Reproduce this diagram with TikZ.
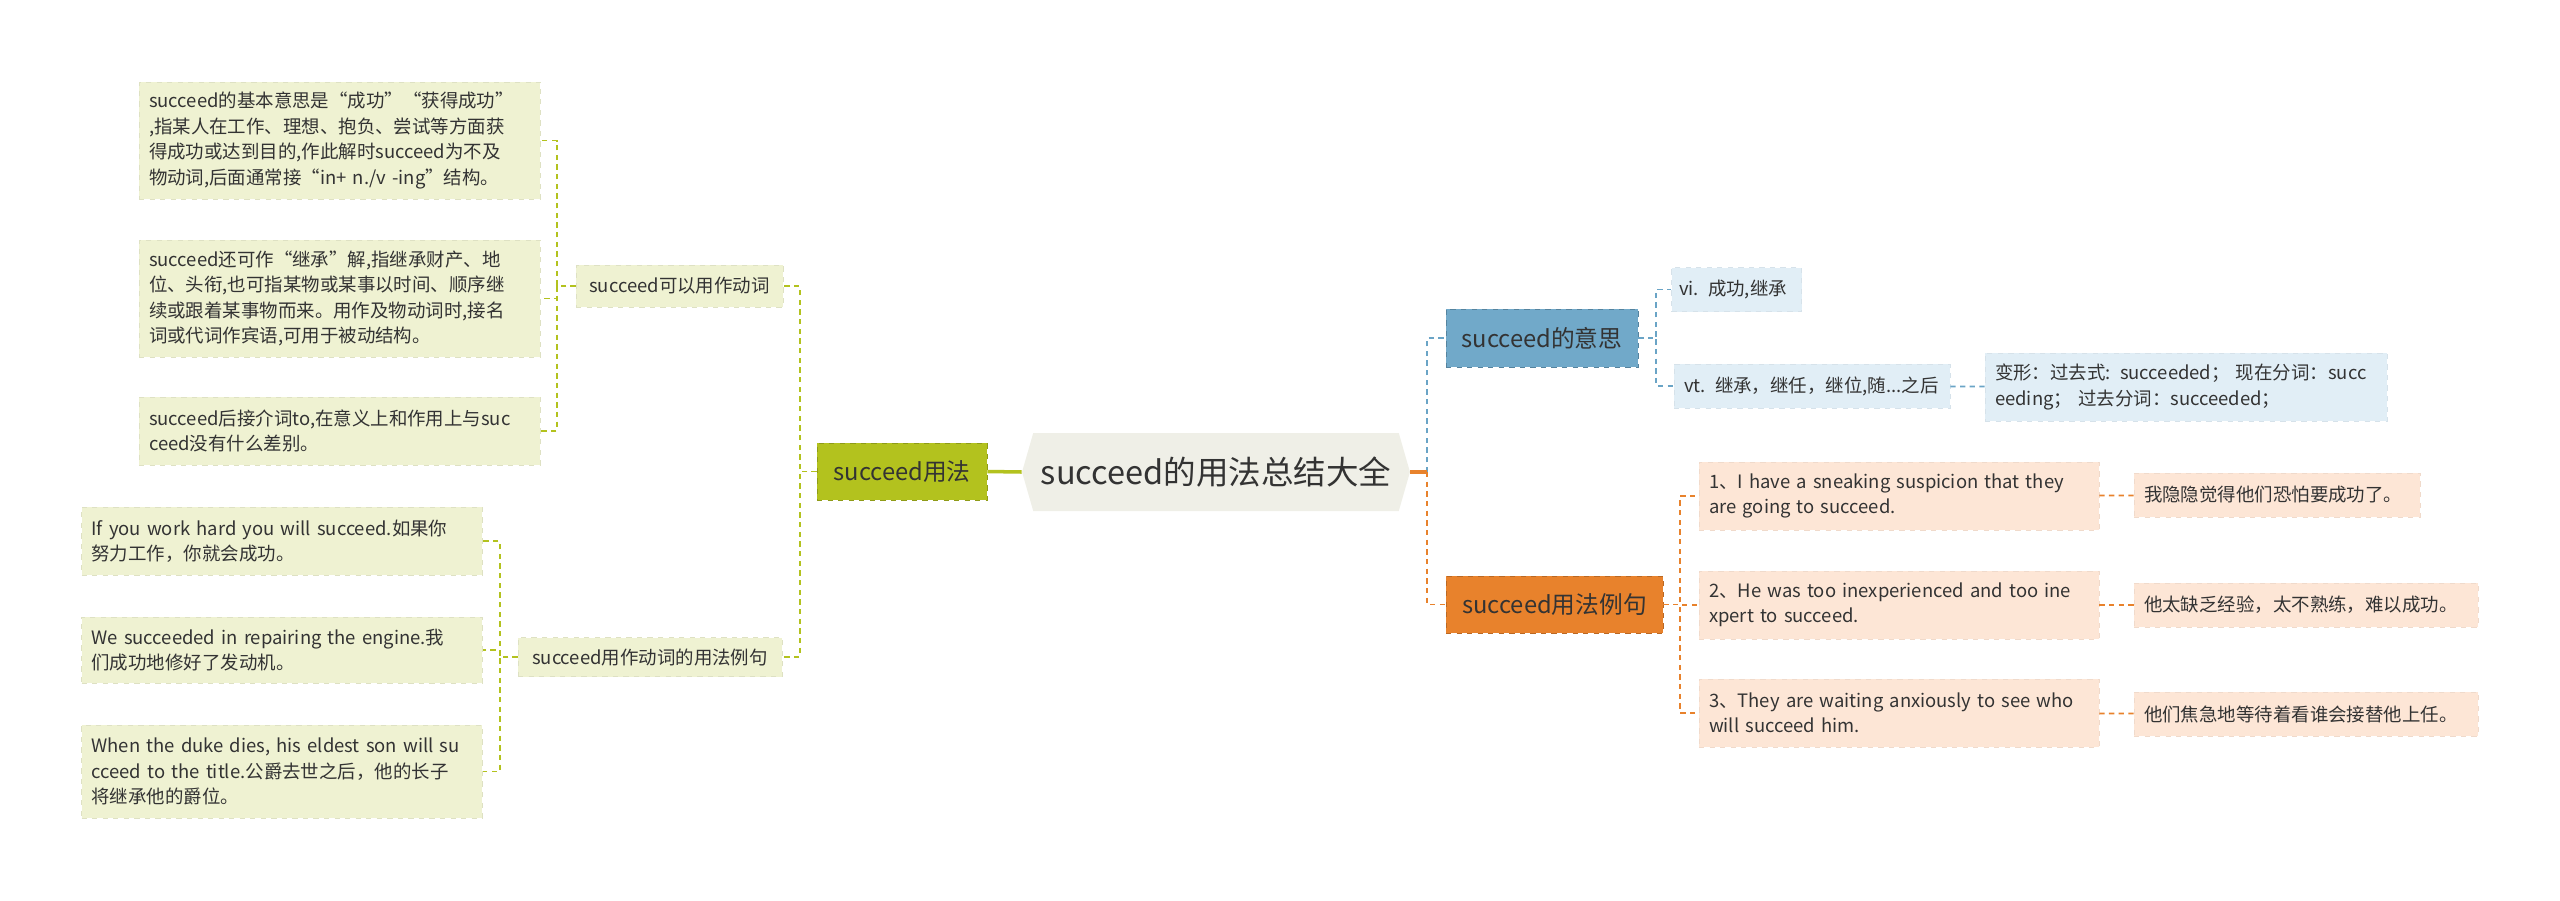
\documentclass[tikz,border=0pt]{standalone}
\usepackage{fontspec}
\setmainfont{Noto Sans CJK SC}
\usetikzlibrary{shapes.symbols}

\tikzset{
  box/.style={inner xsep=0.2cm,inner ysep=0pt,align=left,text=ink,
    font=\fontsize{10.5}{14.5}\selectfont},
  lleaf/.style={box,fill=lfill,draw=lfill!93!black,dashed},
  bleaf/.style={box,fill=bfill,draw=bfill!95!black,dashed},
  oleaf/.style={box,fill=ofill,draw=ofill!95!black,dashed},
  sub/.style={lleaf,align=center,inner xsep=0pt,
    font=\fontsize{10.5}{12}\selectfont},
  mainbox/.style={align=center,inner sep=0pt,text=ink,dashed,
    font=\fontsize{13.5}{15}\selectfont},
  lline/.style={lgreen,line width=1pt,dash pattern=on 3pt off 2.5pt},
  bline/.style={bdark,line width=1pt,dash pattern=on 3pt off 2.5pt},
  oline/.style={odark,line width=1pt,dash pattern=on 3pt off 2.5pt},
}

\begin{document}
\begin{tikzpicture}[x=0.02cm,y=-0.02cm]
\definecolor{ink}{HTML}{333333}
\definecolor{lgreen}{HTML}{B3C21E}
\definecolor{lfill}{HTML}{EFF2D2}
\definecolor{bdark}{HTML}{6AA4C6}
\definecolor{bfill}{HTML}{E1EEF6}
\definecolor{odark}{HTML}{E8822C}
\definecolor{ofill}{HTML}{FDE6D6}
\definecolor{rootfill}{HTML}{EFEFE7}
\useasboundingbox (0,0) rectangle (2560,900);
% centre topic
\node[signal,signal to=west and east,signal pointer angle=148,fill=rootfill,
 text=ink,inner sep=0pt,minimum width=7.76cm,minimum height=1.56cm,
 font=\fontsize{18.5}{21}\selectfont] (root) at (1216,472) {succeed的用法总结大全};
% left branch
\node[mainbox,fill=lgreen,draw=lgreen!80!black,minimum width=3.4cm,minimum height=1.14cm]
 (usage) at (902,471.5) {succeed用法};
\node[sub,minimum width=4.14cm,minimum height=0.84cm] (verb) at (679.5,286) {succeed可以用作动词};
\node[sub,minimum width=5.28cm,minimum height=0.78cm] (vex) at (650,657) {succeed用作动词的用法例句};
\node[lleaf,text width=7.62cm,minimum height=2.34cm] (va) at (339.5,140.5)
 {succeed的基本意思是“成功”“获得成功”\\,指某人在工作、理想、抱负、尝试等方面获\\得成功或达到目的,作此解时succeed为不及\\物动词,后面通常接“in+ n./v -ing”结构。};
\node[lleaf,text width=7.62cm,minimum height=2.34cm] (vb) at (339.5,298.5)
 {succeed还可作“继承”解,指继承财产、地\\位、头衔,也可指某物或某事以时间、顺序继\\续或跟着某事物而来。用作及物动词时,接名\\词或代词作宾语,可用于被动结构。};
\node[lleaf,text width=7.62cm,minimum height=1.36cm] (vc) at (339.5,431)
 {succeed后接介词to,在意义上和作用上与suc\\ceed没有什么差别。};
\node[lleaf,text width=7.62cm,minimum height=1.36cm] (ea) at (282,541)
 {If you work hard you will succeed.如果你\\努力工作，你就会成功。};
\node[lleaf,text width=7.62cm,minimum height=1.32cm] (eb) at (282,650)
 {We succeeded in repairing the engine.我\\们成功地修好了发动机。};
\node[lleaf,text width=7.62cm,minimum height=1.86cm] (ec) at (282,771.5)
 {When the duke dies, his eldest son will su\\cceed to the title.公爵去世之后，他的长子\\将继承他的爵位。};
% right branch
\node[mainbox,fill=bdark!95!white,draw=bdark!80!black,minimum width=3.84cm,minimum height=1.16cm]
 (mean) at (1542,338) {succeed的意思};
\node[mainbox,fill=odark,draw=odark!80!black,minimum width=4.34cm,minimum height=1.14cm]
 (sent) at (1554.5,604.5) {succeed用法例句};
\node[bleaf,inner xsep=0.15cm,text width=2.3cm,minimum height=0.88cm] (vi) at (1736.5,289.5) {vi. 成功,继承};
\node[bleaf,text width=5.12cm,minimum height=0.88cm] (vt) at (1812,386) {vt. 继承，继任，继位,随...之后};
\node[bleaf,text width=7.64cm,minimum height=1.36cm] (forms) at (2186,387)
 {变形：过去式: succeeded； 现在分词：succ\\eeding； 过去分词：succeeded；};
\node[oleaf,text width=7.6cm,minimum height=1.36cm] (sa) at (1899,496)
 {1、I have a sneaking suspicion that they\\are going to succeed.};
\node[oleaf,text width=7.6cm,minimum height=1.36cm] (sb) at (1899,605)
 {2、He was too inexperienced and too ine\\xpert to succeed.};
\node[oleaf,text width=7.6cm,minimum height=1.36cm] (sc) at (1899,713)
 {3、They are waiting anxiously to see who\\ will succeed him.};
\node[oleaf,text width=5.32cm,minimum height=0.88cm] (ta) at (2277,495) {我隐隐觉得他们恐怕要成功了。};
\node[oleaf,text width=6.48cm,minimum height=0.88cm] (tb) at (2306,605) {他太缺乏经验，太不熟练，难以成功。};
\node[oleaf,text width=6.48cm,minimum height=0.88cm] (tc) at (2306,714) {他们焦急地等待着看谁会接替他上任。};
% connectors
\draw[lgreen,line width=2pt] (root.west) -- (usage.east);
\foreach \n in {verb,vex} \draw[lline] (usage.west) -- ++(-17,0) |- (\n.east);
\foreach \n in {va,vb,vc} \draw[lline] (verb.west) -- ++(-19,0) |- (\n.east);
\foreach \n in {ea,eb,ec} \draw[lline] (vex.west) -- ++(-18,0) |- (\n.east);
\draw[bline] (root.east) ++(17,0) |- (mean.west);
\draw[oline] (root.east) ++(17,0) |- (sent.west);
\draw[odark,line width=2pt] (root.east) -- ++(17,0);
\foreach \n in {vi,vt} \draw[bline] (mean.east) -- ++(18,0) |- (\n.west);
\draw[bline] (vt) -- (forms);
\foreach \n in {sa,sb,sc} \draw[oline] (sent.east) -- ++(17,0) |- (\n.west);
\draw[oline] (sa) -- (ta);
\draw[oline] (sb) -- (tb);
\draw[oline] (sc) -- (tc);
\end{tikzpicture}
\end{document}
